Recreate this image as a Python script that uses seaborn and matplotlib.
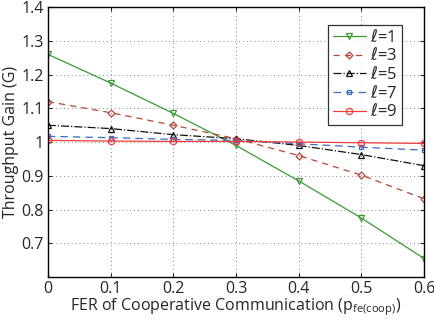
import seaborn as sns
import pandas as pd
import matplotlib.pyplot as plt

# FER values on the x axis
fer = [0.0, 0.1, 0.2, 0.3, 0.4, 0.5, 0.6]

# throughput gain per chain length l
gain_l1 = [1.26, 1.175, 1.085, 0.99, 0.885, 0.775, 0.655]
gain_l3 = [1.12, 1.087, 1.05, 1.01, 0.96, 0.902, 0.832]
gain_l5 = [1.05, 1.04, 1.022, 1.01, 0.99, 0.963, 0.93]
gain_l7 = [1.017, 1.013, 1.008, 1.005, 0.995, 0.985, 0.976]
gain_l9 = [1.005, 1.003, 1.002, 1.002, 1.0, 0.998, 0.996]

labels = [r"$\ell$=1", r"$\ell$=3", r"$\ell$=5", r"$\ell$=7", r"$\ell$=9"]
series = [gain_l1, gain_l3, gain_l5, gain_l7, gain_l9]

sns.set_theme(style="ticks", rc={"xtick.direction": "in", "ytick.direction": "in"})
plt.rcParams["font.family"] = ["Open Sans", "DejaVu Sans"]
plt.rcParams["mathtext.fontset"] = "dejavusans"

rows = []
for lab, vals in zip(labels, series):
    for x, y in zip(fer, vals):
        rows.append({"fer": x, "gain": y, "l": lab})
df = pd.DataFrame(rows)

styles = {
    labels[0]: dict(color="#3a9a3a", ls="-", marker="v"),
    labels[1]: dict(color="#b5483a", ls=(0, (5, 4)), marker="D"),
    labels[2]: dict(color="#111111", ls="-.", marker="^"),
    labels[3]: dict(color="#3a6cc0", ls=(0, (6, 4)), marker="s"),
    labels[4]: dict(color="#f03c3c", ls="-", marker="o"),
}

fig = plt.figure(figsize=(4.35, 3.2), dpi=100)
ax = fig.add_axes([0.110, 0.134, 0.865, 0.844])

for lab in labels:
    st = styles[lab]
    sub = df[df["l"] == lab]
    ms = 3.5 if st["marker"] in ("D", "s") else 4.5
    sns.lineplot(data=sub, x="fer", y="gain", ax=ax, color=st["color"],
                 linestyle=st["ls"], linewidth=0.9, marker=st["marker"],
                 markersize=ms, markerfacecolor="none", markeredgecolor=st["color"],
                 markeredgewidth=0.9, label=lab)

ax.set_xlim(0, 0.6)
ax.set_ylim(0.6, 1.4)
ax.set_xticks(fer)
ax.set_xticklabels(["0", "0.1", "0.2", "0.3", "0.4", "0.5", "0.6"])
ax.set_yticks([0.7, 0.8, 0.9, 1.0, 1.1, 1.2, 1.3, 1.4])
ax.set_yticklabels(["0.7", "0.8", "0.9", "1", "1.1", "1.2", "1.3", "1.4"])
ax.tick_params(labelsize=11.5, top=True, right=True, length=3, width=0.8, pad=3)
ax.grid(True, linestyle=(0, (1, 3)), color="#888888", linewidth=0.7)
for sp in ax.spines.values():
    sp.set_linewidth(1.0)
    sp.set_color("black")

ax.set_xlabel(r"FER of Cooperative Communication (p$_{\mathregular{fe(coop)}}$)", fontsize=11.5, labelpad=-1)
ax.set_ylabel("Throughput Gain (G)", fontsize=11.5, labelpad=2)

leg = ax.legend(loc="upper right", bbox_to_anchor=(0.94, 0.935), fontsize=12,
                frameon=True, fancybox=False, handlelength=2.0, handletextpad=0.25,
                borderpad=0.25, labelspacing=0.1, borderaxespad=0.0)
leg.get_frame().set_edgecolor("black")
leg.get_frame().set_linewidth(0.9)

plt.savefig("out.png", dpi=100)
